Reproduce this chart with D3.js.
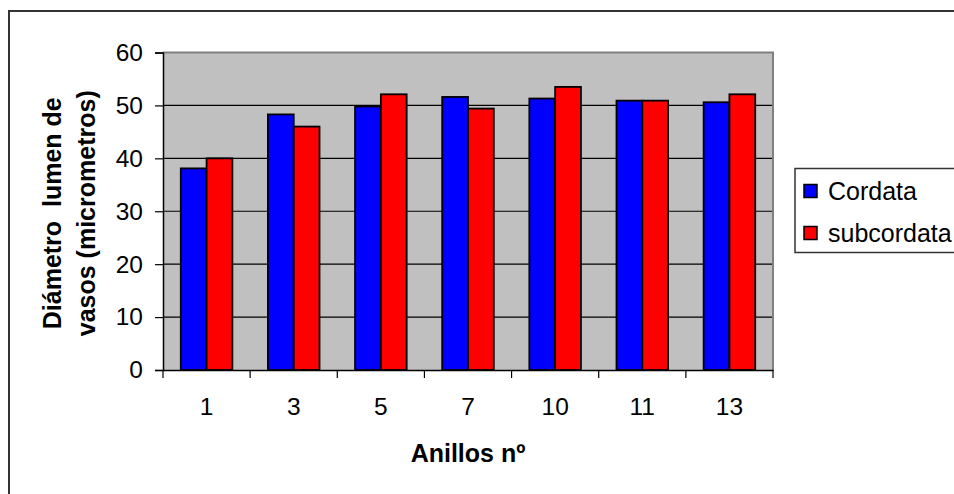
<!DOCTYPE html>
<html>
<head>
<meta charset="utf-8">
<script src="https://cdn.jsdelivr.net/npm/d3@7"></script>
<style>
  html, body { margin: 0; padding: 0; background: #fff; }
  svg { display: block; }
  text { font-family: "Liberation Sans", Arial, sans-serif; fill: #000; }
</style>
</head>
<body>
<div id="chart"></div>
<script>
// Vessel lumen diameter per growth ring, two varieties
const categories = ["1", "3", "5", "7", "10", "11", "13"];
const cordata = [38.1, 48.3, 49.8, 51.6, 51.3, 50.9, 50.6];
const subcordata = [40.0, 46.0, 52.1, 49.4, 53.5, 50.9, 52.1];
const seriesNames = ["Cordata", "subcordata"];
const seriesColors = ["#0000ff", "#ff0000"];
const yTicks = [0, 10, 20, 30, 40, 50, 60];

const W = 954, H = 494;
const plot = { left: 163, right: 773, top: 52.5, bottom: 370 };

const svg = d3.select("#chart").append("svg")
  .attr("width", W).attr("height", H);

// outer chart frame (runs off the right and bottom edges)
svg.append("rect")
  .attr("x", 9).attr("y", 11)
  .attr("width", W + 20).attr("height", H + 20)
  .attr("fill", "#fff").attr("stroke", "#333").attr("stroke-width", 2);

const x = d3.scaleBand().domain(categories)
  .range([plot.left, plot.right]).paddingInner(0).paddingOuter(0);
const y = d3.scaleLinear().domain([0, 60]).range([plot.bottom, plot.top]);

// plot area background
svg.append("rect")
  .attr("x", plot.left).attr("y", plot.top)
  .attr("width", plot.right - plot.left).attr("height", plot.bottom - plot.top)
  .attr("fill", "#c0c0c0");

// horizontal gridlines
svg.append("g").selectAll("line")
  .data(yTicks.filter(v => v > 0 && v < 60))
  .join("line")
  .attr("x1", plot.left).attr("x2", plot.right)
  .attr("y1", d => y(d)).attr("y2", d => y(d))
  .attr("stroke", "#000").attr("stroke-width", 1.2);

// plot area top / right border
svg.append("path")
  .attr("d", `M${plot.left},${plot.top}H${plot.right}V${plot.bottom}`)
  .attr("fill", "none").attr("stroke", "#808080").attr("stroke-width", 2);

// bars
const barW = x.bandwidth() * 0.296;
const rows = categories.map((c, i) => ({ c, vals: [cordata[i], subcordata[i]] }));
const groups = svg.append("g").selectAll("g").data(rows).join("g");
groups.selectAll("rect")
  .data(d => d.vals.map((v, j) => ({ c: d.c, v, j })))
  .join("rect")
  .attr("x", d => x(d.c) + x.bandwidth() / 2 - barW + d.j * barW)
  .attr("y", d => y(d.v))
  .attr("width", barW)
  .attr("height", d => y(0) - y(d.v))
  .attr("fill", d => seriesColors[d.j])
  .attr("stroke", "#000").attr("stroke-width", 1.8);

// y axis
const yAxis = svg.append("g")
  .attr("transform", `translate(${plot.left},0)`)
  .call(d3.axisLeft(y).tickValues(yTicks).tickSize(8).tickPadding(12)
    .tickFormat(d3.format("d")));
yAxis.select(".domain").attr("stroke", "#000").attr("stroke-width", 1.5);
yAxis.selectAll(".tick line").attr("stroke", "#000").attr("stroke-width", 1.2);
yAxis.selectAll("text").attr("font-size", 24.5).attr("fill", "#000")
  .attr("font-family", "'Liberation Sans', Arial, sans-serif");

// x axis: labels centred in each band, ticks at band boundaries
const xAxis = svg.append("g")
  .attr("transform", `translate(0,${plot.bottom})`)
  .call(d3.axisBottom(x).tickSize(0).tickPadding(28));
xAxis.select(".domain").attr("stroke", "#000").attr("stroke-width", 1.5);
xAxis.selectAll("text").attr("font-size", 24.5).attr("fill", "#000")
  .attr("font-family", "'Liberation Sans', Arial, sans-serif");
const bounds = categories.map(c => x(c)).concat([x.range()[1]]);
svg.append("g").selectAll("line").data(bounds).join("line")
  .attr("x1", d => d).attr("x2", d => d)
  .attr("y1", plot.bottom).attr("y2", plot.bottom + 8)
  .attr("stroke", "#000").attr("stroke-width", 1.2);

// axis titles
svg.append("text")
  .attr("x", (plot.left + plot.right) / 2).attr("y", 462)
  .attr("text-anchor", "middle")
  .attr("font-size", 25).attr("font-weight", "bold")
  .text("Anillos nº");

const yTitle = svg.append("text")
  .attr("transform", `translate(0,${(plot.top + plot.bottom) / 2 + 2}) rotate(-90)`)
  .attr("text-anchor", "middle")
  .style("white-space", "pre")
  .attr("font-size", 25).attr("font-weight", "bold");
yTitle.append("tspan").attr("x", 0).attr("y", 61).text("Diámetro  lumen de");
yTitle.append("tspan").attr("x", 0).attr("y", 95).text("vasos (micrometros)");

// legend
const legend = svg.append("g");
legend.append("rect")
  .attr("x", 795).attr("y", 168.5)
  .attr("width", 200).attr("height", 84)
  .attr("fill", "#fff").attr("stroke", "#333").attr("stroke-width", 1.5);
const items = legend.selectAll("g.item").data(seriesNames).join("g")
  .attr("class", "item")
  .attr("transform", (d, i) => `translate(0,${191 + i * 42})`);
items.append("rect")
  .attr("x", 804).attr("y", -6.5)
  .attr("width", 13).attr("height", 13)
  .attr("fill", (d, i) => seriesColors[i])
  .attr("stroke", "#000").attr("stroke-width", 1.5);
items.append("text")
  .attr("x", 828).attr("y", 0).attr("dy", "0.36em")
  .attr("font-size", 25)
  .text(d => d);
</script>
</body>
</html>
